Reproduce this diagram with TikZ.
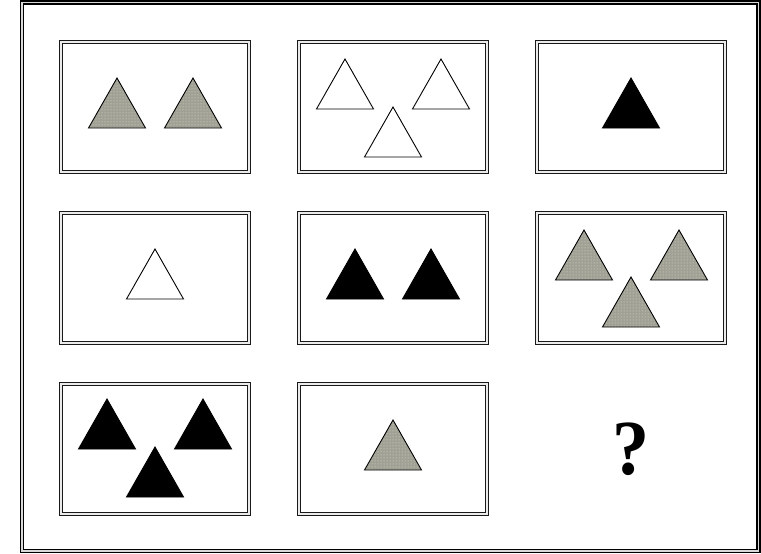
\documentclass[tikz,border=0pt]{standalone}
\usepackage{fontspec}
\setmainfont{Liberation Serif}
\usetikzlibrary{patterns}
\definecolor{stipplegray}{RGB}{160,160,150}
\definecolor{dotyellow}{RGB}{232,232,190}
\tikzset{
    cell/.style={draw=black!90, double=black!8, double distance=1.5pt, line width=1.3pt,
        minimum width=188pt, minimum height=130pt, inner sep=0pt},
    frame/.style={draw=black, double=black!15, double distance=1.4pt, line width=1.5pt},
    tri/.pic={\path[pic actions] (0,0) -- (-28.5,50) -- (28.5,50) -- cycle;},
    stippletri/.pic={
        \fill[stipplegray] (0,0) -- (-28.5,50) -- (28.5,50) -- cycle;
        \fill[pattern=dots, pattern color=dotyellow] (0,0) -- (-28.5,50) -- (28.5,50) -- cycle;
        \draw[line width=0.9pt] (0,0) -- (-28.5,50) -- (28.5,50) -- cycle;},
    blacktri/.style={draw=black, fill=black, line width=0.9pt},
    whitetri/.style={draw=black, fill=white, line width=0.9pt}
}
\begin{document}
\begin{tikzpicture}[x=1pt, y=-1pt]
        \useasboundingbox (0,0) rectangle (761,554);
        \draw[frame] (22,2.5) rectangle (758.5,551);
        % the eight boxes of the grid
        \foreach \row/\yc in {1/107,2/278,3/449}
            \foreach \col/\xc in {1/155,2/393,3/631}
                \coordinate (centre-\row-\col) at (\xc,\yc);
        \foreach \row/\col in {1/1,1/2,1/3,2/1,2/2,2/3,3/1,3/2}
            \node[cell] (cell-\row-\col) at (centre-\row-\col) {};
        % row 1
        \pic at (117,78) {stippletri};
        \pic at (193,78) {stippletri};
        \pic[whitetri] at (345,59) {tri};
        \pic[whitetri] at (441,59) {tri};
        \pic[whitetri] at (393,107) {tri};
        \pic[blacktri] at (631,78) {tri};
        % row 2
        \pic[whitetri] at (155,249) {tri};
        \pic[blacktri] at (355,249) {tri};
        \pic[blacktri] at (431,249) {tri};
        \pic at (584,230) {stippletri};
        \pic at (679,230) {stippletri};
        \pic at (631,277) {stippletri};
        % row 3
        \pic[blacktri] at (107,399) {tri};
        \pic[blacktri] at (203,399) {tri};
        \pic[blacktri] at (155,447) {tri};
        \pic at (393,420) {stippletri};
        \node[font=\bfseries\fontsize{78}{78}\selectfont, xscale=0.95] (query) at (centre-3-3) {?};
    \end{tikzpicture}
\end{document}
